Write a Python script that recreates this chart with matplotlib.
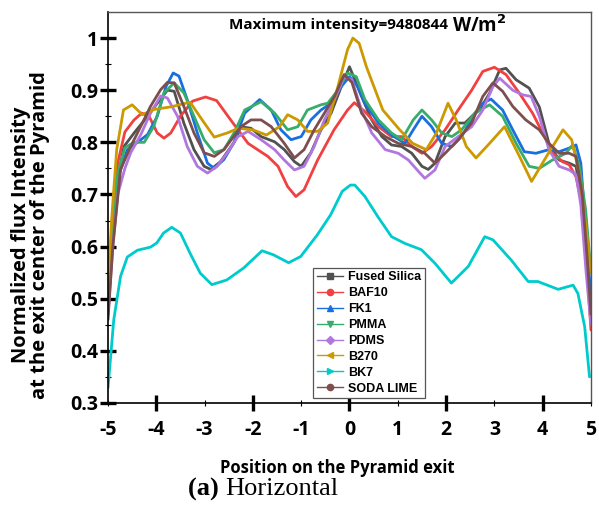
import matplotlib
matplotlib.use("Agg")
import matplotlib.pyplot as plt
from matplotlib.lines import Line2D
from matplotlib.ticker import FixedLocator

# Normalized flux intensity along the pyramid exit (horizontal cut)
labels = ['Fused Silica', 'BAF10', 'FK1', 'PMMA', 'PDMS', 'B270', 'BK7', 'SODA LIME']
colors = ['#515151', '#F14040', '#1A6FDF', '#37AD6B', '#B177DE', '#CC9900', '#00CBCC', '#7D4E4E']
markers = ['s', 'o', '^', 'v', 'D', '<', '>', 'o']

x_silica = [-5, -4.9, -4.8, -4.67, -4.46, -4.18, -3.98, -3.77, -3.63, -3.43, -3.22, -3.01, -2.87, -2.67,
            -2.39, -2.25, -2.04, -1.83, -1.55, -1.35, -1.14, -1.0, -0.8, -0.59, -0.38, -0.17, 0.0, 0.25,
            0.46, 0.67, 0.87, 1.08, 1.29, 1.5, 1.63, 1.77, 1.98, 2.19, 2.39, 2.6, 2.69, 2.9, 3.11, 3.24,
            3.45, 3.72, 3.93, 4.13, 4.34, 4.55, 4.69, 4.79, 4.9, 5.0]
y_silica = [0.48, 0.62, 0.73, 0.792, 0.818, 0.85, 0.875, 0.9, 0.898, 0.837, 0.786, 0.754, 0.748, 0.763,
            0.8, 0.83, 0.827, 0.811, 0.801, 0.786, 0.763, 0.754, 0.78, 0.824, 0.856, 0.907, 0.945, 0.888,
            0.843, 0.811, 0.795, 0.792, 0.779, 0.754, 0.748, 0.76, 0.811, 0.837, 0.837, 0.856, 0.862, 0.894,
            0.939, 0.942, 0.92, 0.904, 0.868, 0.798, 0.766, 0.76, 0.754, 0.70, 0.6, 0.5]

x_baf10 = [-5, -4.9, -4.8, -4.65, -4.46, -4.3, -4.15, -3.98, -3.84, -3.7, -3.5, -3.25, -2.98, -2.75, -2.46,
           -2.1, -1.69, -1.48, -1.28, -1.11, -0.94, -0.66, -0.32, -0.04, 0.1, 0.32, 0.6, 0.87, 1.08, 1.29,
           1.5, 1.7, 1.98, 2.25, 2.53, 2.76, 3.0, 3.24, 3.52, 3.79, 4.0, 4.21, 4.41, 4.55, 4.69, 4.79, 4.9, 5.0]
y_baf10 = [0.5, 0.66, 0.76, 0.82, 0.843, 0.856, 0.85, 0.818, 0.808, 0.818, 0.85, 0.879, 0.887, 0.88, 0.843,
           0.798, 0.773, 0.754, 0.715, 0.696, 0.709, 0.766, 0.824, 0.862, 0.876, 0.859, 0.83, 0.811, 0.811,
           0.792, 0.779, 0.792, 0.824, 0.862, 0.9, 0.936, 0.944, 0.93, 0.894, 0.856, 0.818, 0.779, 0.763,
           0.757, 0.734, 0.69, 0.58, 0.44]

x_fk1 = [-5, -4.9, -4.8, -4.6, -4.39, -4.18, -3.98, -3.8, -3.65, -3.53, -3.36, -3.15, -2.94, -2.8, -2.6,
         -2.39, -2.17, -1.86, -1.62, -1.42, -1.21, -1.0, -0.8, -0.59, -0.38, -0.17, 0.0, 0.17, 0.32, 0.6,
         0.87, 1.15, 1.32, 1.5, 1.7, 1.91, 2.12, 2.32, 2.6, 2.76, 2.93, 3.17, 3.38, 3.62, 3.86, 4.13, 4.34,
         4.55, 4.69, 4.79, 4.9, 5.0]
y_fk1 = [0.47, 0.62, 0.73, 0.786, 0.8, 0.815, 0.85, 0.907, 0.933, 0.927, 0.882, 0.818, 0.76, 0.75, 0.767,
         0.8, 0.856, 0.882, 0.862, 0.824, 0.805, 0.811, 0.843, 0.862, 0.875, 0.907, 0.926, 0.907, 0.875,
         0.837, 0.814, 0.798, 0.824, 0.85, 0.83, 0.798, 0.792, 0.811, 0.856, 0.875, 0.883, 0.862, 0.824,
         0.782, 0.779, 0.786, 0.782, 0.789, 0.795, 0.76, 0.62, 0.5]

x_pmma = [-5, -4.9, -4.8, -4.65, -4.46, -4.25, -4.05, -3.84, -3.63, -3.43, -3.22, -3.01, -2.8, -2.6, -2.39,
          -2.17, -1.83, -1.55, -1.28, -1.07, -0.87, -0.59, -0.45, -0.24, -0.04, 0.14, 0.32, 0.6, 0.87, 1.08,
          1.32, 1.5, 1.7, 1.91, 2.12, 2.32, 2.6, 2.9, 3.17, 3.45, 3.72, 3.93, 4.2, 4.48, 4.62, 4.76, 4.89, 5.0]
y_pmma = [0.48, 0.63, 0.74, 0.79, 0.8, 0.8, 0.831, 0.895, 0.914, 0.895, 0.85, 0.805, 0.78, 0.786, 0.818,
          0.862, 0.878, 0.856, 0.824, 0.83, 0.862, 0.872, 0.875, 0.9, 0.933, 0.926, 0.882, 0.843, 0.818,
          0.805, 0.843, 0.862, 0.843, 0.818, 0.811, 0.824, 0.856, 0.872, 0.85, 0.798, 0.754, 0.75, 0.766,
          0.779, 0.795, 0.754, 0.67, 0.55]

x_pdms = [-5, -4.9, -4.8, -4.65, -4.53, -4.32, -4.12, -3.91, -3.77, -3.56, -3.36, -3.15, -2.94, -2.74, -2.53,
          -2.31, -2.1, -1.83, -1.55, -1.35, -1.14, -0.94, -0.73, -0.52, -0.31, -0.11, 0.05, 0.25, 0.46, 0.74,
          1.01, 1.22, 1.43, 1.56, 1.77, 1.98, 2.25, 2.53, 2.76, 2.97, 3.11, 3.38, 3.59, 3.76, 3.93, 4.13,
          4.34, 4.55, 4.69, 4.79, 4.9, 5.0]
y_pdms = [0.47, 0.6, 0.7, 0.75, 0.78, 0.815, 0.856, 0.889, 0.885, 0.85, 0.792, 0.754, 0.741, 0.754, 0.78,
          0.811, 0.821, 0.805, 0.786, 0.766, 0.747, 0.754, 0.792, 0.843, 0.882, 0.926, 0.92, 0.862, 0.818,
          0.786, 0.779, 0.766, 0.744, 0.731, 0.747, 0.792, 0.811, 0.83, 0.862, 0.907, 0.923, 0.9, 0.891,
          0.888, 0.85, 0.786, 0.754, 0.747, 0.738, 0.68, 0.55, 0.45]

x_b270 = [-5, -4.92, -4.82, -4.68, -4.5, -4.29, -4.05, -3.7, -3.3, -3.05, -2.8, -2.53, -2.3, -2.0, -1.72,
          -1.45, -1.28, -1.07, -0.87, -0.66, -0.45, -0.24, -0.04, 0.07, 0.2, 0.35, 0.69, 1.04, 1.31, 1.59,
          1.8, 2.04, 2.21, 2.42, 2.62, 2.9, 3.21, 3.52, 3.77, 4.08, 4.42, 4.6, 4.77, 4.91, 5.0]
y_b270 = [0.53, 0.658, 0.786, 0.862, 0.872, 0.853, 0.863, 0.868, 0.877, 0.843, 0.81, 0.818, 0.827, 0.824,
          0.814, 0.83, 0.853, 0.843, 0.821, 0.821, 0.837, 0.907, 0.978, 1.0, 0.99, 0.945, 0.862, 0.824,
          0.798, 0.786, 0.818, 0.875, 0.843, 0.792, 0.77, 0.798, 0.83, 0.773, 0.725, 0.773, 0.824, 0.805,
          0.734, 0.626, 0.55]

x_bk7 = [-5, -4.88, -4.74, -4.6, -4.39, -4.12, -3.99, -3.85, -3.68, -3.5, -3.3, -3.09, -2.85, -2.54, -2.19,
         -1.81, -1.57, -1.26, -1.01, -0.67, -0.39, -0.15, 0.02, 0.11, 0.32, 0.59, 0.87, 1.15, 1.49, 1.77,
         2.11, 2.46, 2.8, 2.97, 3.35, 3.7, 3.9, 4.32, 4.63, 4.73, 4.87, 4.97]
y_bk7 = [0.329, 0.46, 0.543, 0.58, 0.593, 0.599, 0.607, 0.626, 0.637, 0.626, 0.587, 0.549, 0.527, 0.536,
         0.559, 0.592, 0.584, 0.569, 0.581, 0.622, 0.661, 0.706, 0.718, 0.718, 0.696, 0.657, 0.619, 0.606,
         0.594, 0.568, 0.53, 0.562, 0.619, 0.613, 0.574, 0.533, 0.533, 0.518, 0.526, 0.51, 0.446, 0.35]

x_soda = [-5, -4.9, -4.74, -4.53, -4.32, -4.12, -3.91, -3.77, -3.63, -3.43, -3.22, -3.01, -2.8, -2.6, -2.39,
          -2.25, -2.04, -1.83, -1.62, -1.35, -1.14, -0.94, -0.73, -0.52, -0.31, -0.11, 0.05, 0.25, 0.46,
          0.74, 1.01, 1.29, 1.56, 1.77, 1.98, 2.25, 2.53, 2.76, 2.97, 3.17, 3.38, 3.65, 3.93, 4.13, 4.34,
          4.55, 4.69, 4.82, 4.92, 5.0]
y_soda = [0.46, 0.6, 0.748, 0.792, 0.831, 0.869, 0.901, 0.915, 0.914, 0.869, 0.818, 0.78, 0.773, 0.786,
          0.812, 0.83, 0.843, 0.843, 0.83, 0.798, 0.77, 0.786, 0.824, 0.856, 0.888, 0.93, 0.915, 0.856, 0.83,
          0.811, 0.798, 0.792, 0.779, 0.76, 0.779, 0.805, 0.837, 0.888, 0.914, 0.898, 0.869, 0.843, 0.824,
          0.798, 0.779, 0.779, 0.773, 0.7, 0.58, 0.47]

xs = [x_silica, x_baf10, x_fk1, x_pmma, x_pdms, x_b270, x_bk7, x_soda]
ys = [y_silica, y_baf10, y_fk1, y_pmma, y_pdms, y_b270, y_bk7, y_soda]

x_major = [-4, -2, 0, 2, 4]
x_minor = [-5, -3, -1, 1, 3, 5]
y_major = [0.3, 0.4, 0.5, 0.6, 0.7, 0.8, 0.9, 1.0]
y_minor = [0.35, 0.45, 0.55, 0.65, 0.75, 0.85, 0.95]

fig = plt.figure(figsize=(5.99, 5.11), dpi=100)
ax = fig.add_axes([0.1803, 0.2114, 0.8063, 0.7651])

for xv, yv, c in zip(xs, ys, colors):
    ax.plot(xv, yv, color=c, lw=2.0, solid_joinstyle='round', solid_capstyle='round')

ax.set_xlim(-5, 5)
ax.set_ylim(0.3, 1.05)

tick_font = dict(family='Open Sans', weight='bold', size=14)

ax.xaxis.set_major_locator(FixedLocator(x_major))
ax.xaxis.set_minor_locator(FixedLocator(x_minor))
ax.set_xticks(x_major, [str(v) for v in x_major], **tick_font)
ax.set_xticks(x_minor, [str(v) for v in x_minor], minor=True, **tick_font)
ax.tick_params(axis='x', which='major', direction='inout', length=11, width=2.4, pad=7)
ax.tick_params(axis='x', which='minor', direction='inout', length=4, width=0.8, pad=10.5)

ax.set_yticks(y_major, ['0.3', '0.4', '0.5', '0.6', '0.7', '0.8', '0.9', '1'], **tick_font)
ax.set_yticks(y_minor, minor=True)
ax.tick_params(axis='y', which='major', direction='inout', length=12, width=2.4, pad=1)
ax.tick_params(axis='y', which='minor', direction='inout', length=4, width=0.8)

for side in ['left', 'bottom']:
    ax.spines[side].set_color('black')
    ax.spines[side].set_linewidth(1.2)
for side in ['top', 'right']:
    ax.spines[side].set_color('#555555')
    ax.spines[side].set_linewidth(1.0)

ax.set_ylabel('Normalized flux Intensity\nat the exit center of the Pyramid',
              family='Open Sans', weight='bold', fontsize=14.5, linespacing=0.95)
ax.yaxis.set_label_coords(-0.12, 0.43)
ax.set_xlabel('Position on the Pyramid exit', family='Open Sans', weight='bold', fontsize=12)
ax.xaxis.set_label_coords(0.474, -0.143)

ax.text(0.712, 0.985, 'Maximum intensity=9480844 ', transform=ax.transAxes, ha='right', va='top',
        family='Open Sans', weight='bold', fontsize=11)
ax.text(0.712, 0.99, 'W/m$^\\mathbf{2}$', transform=ax.transAxes, ha='left', va='top',
        family='Open Sans', weight='bold', fontsize=13.5)

fig.text(0.376, 0.043, '(a) ', ha='right', va='center', family='Liberation Serif', weight='bold', fontsize=19)
fig.text(0.376, 0.043, 'Horizontal', ha='left', va='center', family='Liberation Serif', fontsize=19)

handles = [Line2D([], [], color=c, lw=1.0, marker=m, markersize=4.5, markerfacecolor=c, markeredgecolor=c)
           for c, m in zip(colors, markers)]
leg = ax.legend(handles, labels, loc='lower left', bbox_to_anchor=(0.424, 0.012),
                prop=dict(family='Liberation Sans', weight='bold', size=9),
                frameon=True, fancybox=False, edgecolor='#555555', framealpha=1,
                handlelength=2.1, handletextpad=0.4, labelspacing=0.31, borderpad=0.3,
                borderaxespad=0)
leg.get_frame().set_linewidth(0.9)

fig.savefig('out.png', dpi=100)
